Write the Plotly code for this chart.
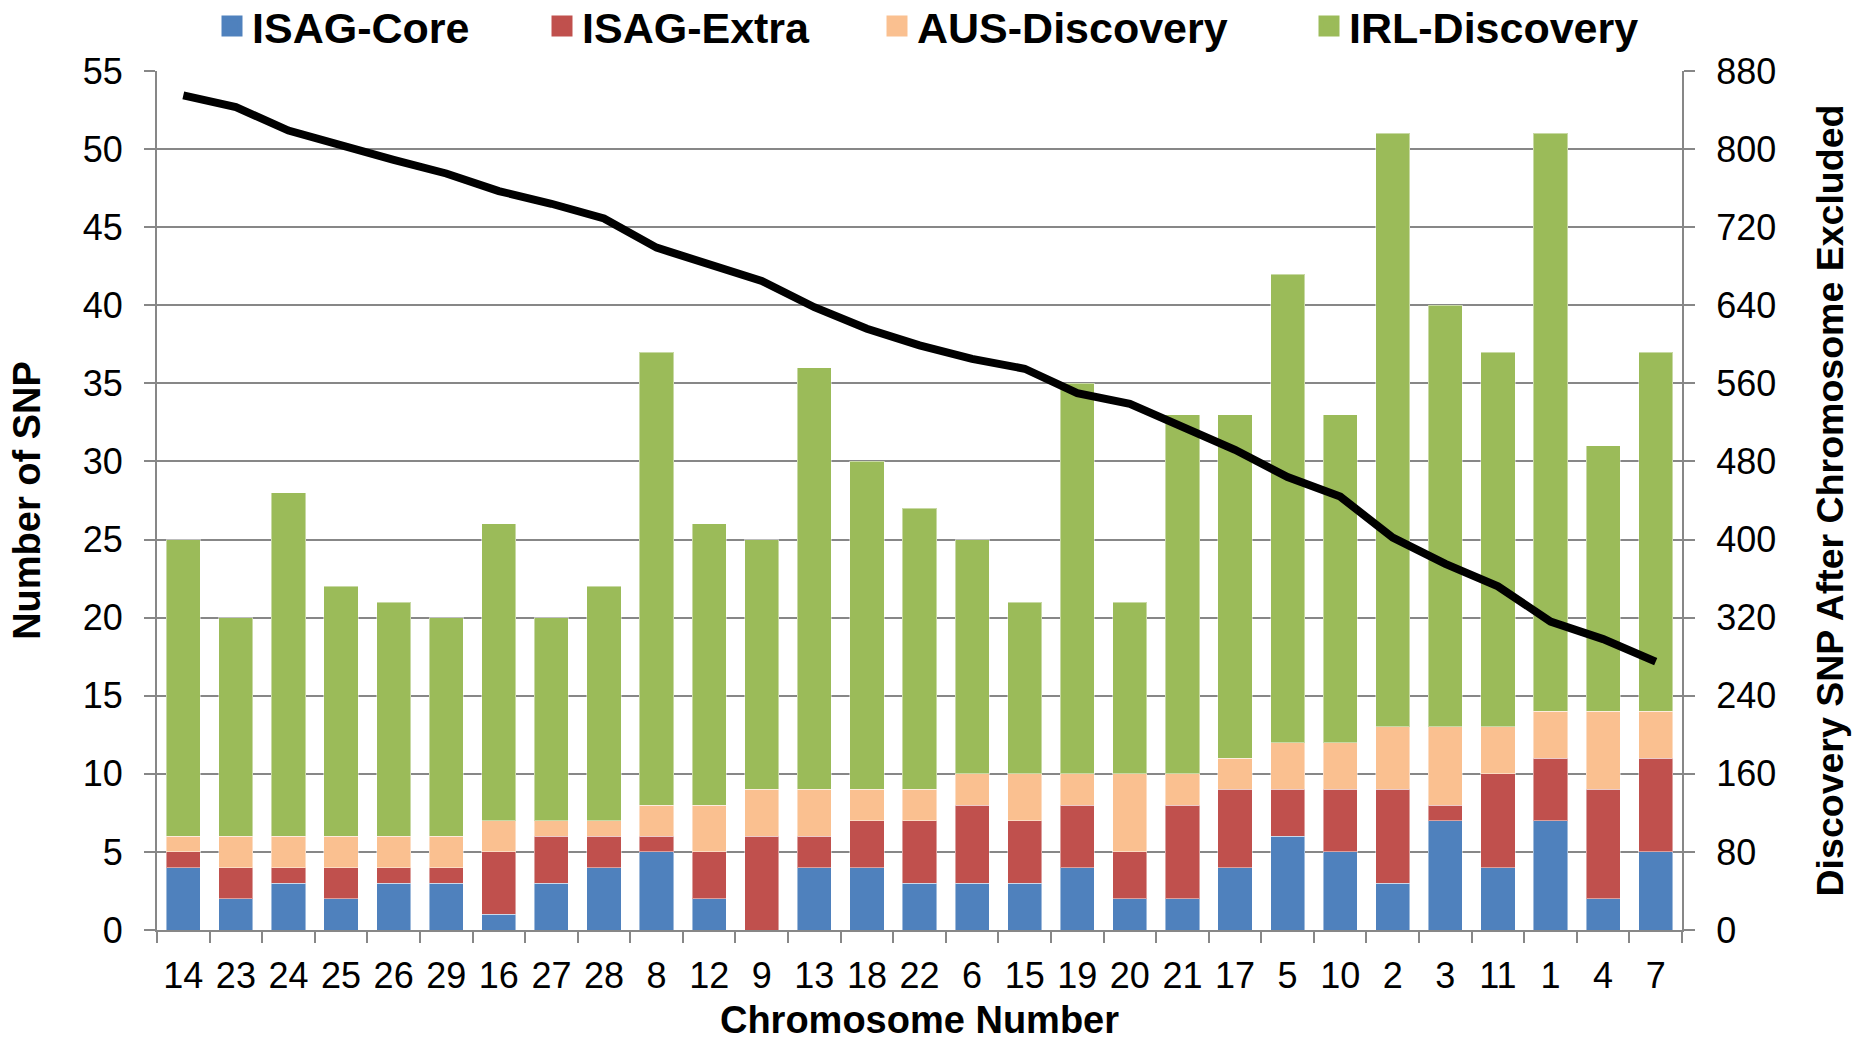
import plotly.graph_objects as go

chromosomes = ["14", "23", "24", "25", "26", "29", "16", "27", "28", "8", "12", "9", "13", "18", "22",
               "6", "15", "19", "20", "21", "17", "5", "10", "2", "3", "11", "1", "4", "7"]
isag_core = [4, 2, 3, 2, 3, 3, 1, 3, 4, 5, 2, 0, 4, 4, 3, 3, 3, 4, 2, 2, 4, 6, 5, 3, 7, 4, 7, 2, 5]
isag_extra = [1, 2, 1, 2, 1, 1, 4, 3, 2, 1, 3, 6, 2, 3, 4, 5, 4, 4, 3, 6, 5, 3, 4, 6, 1, 6, 4, 7, 6]
aus_discovery = [1, 2, 2, 2, 2, 2, 2, 1, 1, 2, 3, 3, 3, 2, 2, 2, 3, 2, 5, 2, 2, 3, 3, 4, 5, 3, 3, 5, 3]
irl_discovery = [19, 14, 22, 16, 15, 14, 19, 13, 15, 29, 18, 16, 27, 21, 18, 15, 11, 25, 11, 23, 22, 30,
                 21, 38, 27, 24, 37, 17, 23]
remaining_discovery = [855, 843, 819, 803, 789, 775, 757, 744, 729, 699, 681, 665, 638, 616, 599, 585,
                       575, 550, 539, 515, 492, 464, 444, 402, 375, 352, 316, 298, 275]

series = [
    ("ISAG-Core", isag_core, "#4F81BD", "legend"),
    ("ISAG-Extra", isag_extra, "#C0504D", "legend2"),
    ("AUS-Discovery", aus_discovery, "#FAC090", "legend3"),
    ("IRL-Discovery", irl_discovery, "#9BBB59", "legend4"),
]

FONT = "Liberation Sans, Arial, sans-serif"
GRID = "#878787"

fig = go.Figure()
for name, vals, color, lg in series:
    fig.add_trace(go.Bar(
        x=chromosomes, y=vals, name=name, legend=lg, legendgroup=name, showlegend=False,
        marker=dict(color=color, line=dict(width=1, color="rgba(255,255,255,0.45)")),
        yaxis="y",
    ))
    # legend entry (square swatch) for the stacked series
    fig.add_trace(go.Scatter(
        x=[None], y=[None], mode="markers", name=name, legend=lg, legendgroup=name, showlegend=True,
        marker=dict(symbol="square", size=16, color=color, line=dict(width=5, color=color)),
        yaxis="y", hoverinfo="skip",
    ))

fig.add_trace(go.Scatter(
    x=chromosomes, y=remaining_discovery, mode="lines", name="Discovery SNP After Chromosome Excluded",
    line=dict(color="black", width=8), yaxis="y2", showlegend=False,
))

W, H = 1860, 1041
PLOT_L, PLOT_R, PLOT_T, PLOT_B = 157, 1682, 71, 930
ML, MR, MT, MB = PLOT_L, W - PLOT_R, PLOT_T, H - PLOT_B
PW = W - ML - MR
PH = H - MT - MB


def px_x(p):
    return (p - ML) / PW


def px_y(p):
    return (H - MB - p) / PH


legend_common = dict(
    orientation="h", xanchor="left", yanchor="middle", y=px_y(26),
    font=dict(family=FONT, size=43, color="black", weight="bold"),
    bgcolor="rgba(0,0,0,0)", borderwidth=0, itemsizing="trace",
)
legend_lefts = [212, 542, 877, 1309]

fig.update_layout(
    width=W, height=H,
    margin=dict(l=ML, r=MR, t=MT, b=MB, pad=0, autoexpand=False),
    paper_bgcolor="white", plot_bgcolor="white",
    barmode="stack", bargap=0.35,
    font=dict(family=FONT, color="black"),
    legend=dict(x=px_x(legend_lefts[0]), **legend_common),
    legend2=dict(x=px_x(legend_lefts[1]), **legend_common),
    legend3=dict(x=px_x(legend_lefts[2]), **legend_common),
    legend4=dict(x=px_x(legend_lefts[3]), **legend_common),
    xaxis=dict(
        type="category", tickson="boundaries", ticks="outside", ticklen=11, tickwidth=2, tickcolor=GRID,
        showline=True, linecolor=GRID, linewidth=2, showgrid=False,
        tickfont=dict(family=FONT, size=36, color="black"), ticklabelstandoff=13,
        title=dict(text="Chromosome Number", font=dict(family=FONT, size=38, color="black", weight="bold"),
                   standoff=31),
    ),
    yaxis=dict(
        range=[0, 55], dtick=5, tick0=0, ticks="outside", ticklen=11, tickwidth=2, tickcolor=GRID,
        showline=True, linecolor=GRID, linewidth=2,
        showgrid=True, gridcolor=GRID, gridwidth=1.5, zeroline=False,
        tickfont=dict(family=FONT, size=36, color="black"), ticklabelstandoff=14,
        title=dict(text="Number of SNP", font=dict(family=FONT, size=38, color="black", weight="bold"),
                   standoff=30),
    ),
    yaxis2=dict(
        range=[0, 880], dtick=80, tick0=0, overlaying="y", side="right",
        ticks="outside", ticklen=11, tickwidth=2, tickcolor=GRID,
        showline=True, linecolor=GRID, linewidth=2, showgrid=False, zeroline=False,
        tickfont=dict(family=FONT, size=36, color="black"), ticklabelstandoff=14,
        title=dict(text="Discovery SNP After Chromosome Excluded",
                   font=dict(family=FONT, size=37.5, color="black", weight="bold"), standoff=41),
    ),
)

# remove the browser's default 8px body margin so the figure fills the window exactly
fig.write_html("out.html", config={"displayModeBar": False},
               post_script="document.body.style.margin='0';")
